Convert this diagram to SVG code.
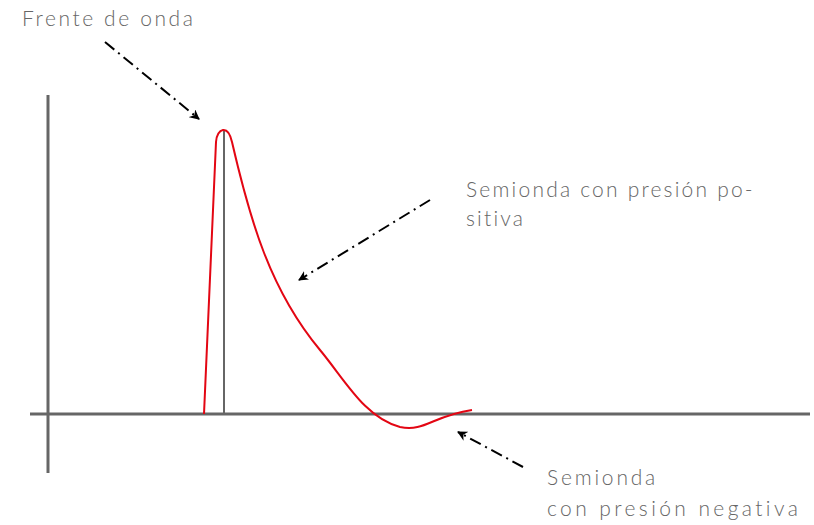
<svg xmlns="http://www.w3.org/2000/svg" width="814" height="525" viewBox="0 0 814 525">
<defs>
<marker id="ah" viewBox="0 0 10 10" refX="9" refY="5" markerWidth="10" markerHeight="10" markerUnits="userSpaceOnUse" orient="auto">
<path d="M0,0 L10,5 L0,10 L3,5 Z" fill="#000"/>
</marker>
<style>
.ax{stroke:#666;stroke-width:3;fill:none}
.lbl{font-family:Lato,"Open Sans",sans-serif;font-weight:300;font-size:21px;fill:#666;letter-spacing:2.2px}
.arr{stroke:#000;stroke-width:2;fill:none;stroke-dasharray:12 5 2 5;marker-end:url(#ah)}
</style>
</defs>
<rect width="814" height="525" fill="#fff"/>
<g id="axes">
<line class="ax" x1="48" y1="95" x2="48" y2="473"/>
<line class="ax" x1="30" y1="414" x2="810" y2="414"/>
<line x1="224" y1="131" x2="224" y2="414" stroke="#666" stroke-width="2"/>
</g>
<g id="curve">
<path d="M204,414 L216,142 C217,128 228,124 232,142 C250,220 270,290 320,350 C345,380 365,418 400,427 C425,432 432,416 472,410" fill="none" stroke="#e30613" stroke-width="2"/>
</g>
<g id="connectors">
<line class="arr" x1="105" y1="42" x2="199" y2="119"/>
<line class="arr" x1="430" y1="200" x2="299" y2="280"/>
<line class="arr" x1="523" y1="467" x2="458" y2="432"/>
</g>
<g id="label-frente"><text class="lbl" x="22" y="26" style="letter-spacing:2.6px">Frente de onda</text></g>
<g id="label-positiva"><text class="lbl" x="466" y="197">Semionda con presión po-</text><text class="lbl" x="466" y="226">sitiva</text></g>
<g id="label-negativa"><text class="lbl" x="547" y="485" style="letter-spacing:2.8px">Semionda</text><text class="lbl" x="547" y="516" style="letter-spacing:3.4px">con presión negativa</text></g>
</svg>
